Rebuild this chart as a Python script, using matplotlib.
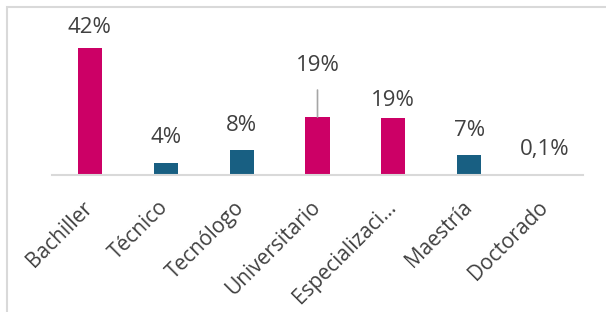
import matplotlib.pyplot as plt
import matplotlib.transforms as mtransforms
from matplotlib.patches import Rectangle

categories = ['Bachiller', 'Técnico', 'Tecnólogo', 'Universitario',
              'Especializaci…', 'Maestría', 'Doctorado']
values = [42.0, 4.0, 8.2, 19.2, 18.9, 6.6, 0.1]
labels = ['42%', '4%', '8%', '19%', '19%', '7%', '0,1%']
groups = ['a', 'b', 'b', 'a', 'a', 'b', 'b']

colors = {'a': '#CC0066', 'b': '#185F82'}
text_color = '#404040'
plt.rcParams['font.family'] = ['Open Sans', 'DejaVu Sans']

fig = plt.figure(figsize=(6.06, 3.12), dpi=100)
ax = fig.add_axes([52 / 606, 137 / 312, 531 / 606, 151 / 312])

# chart border
fig.patches.append(Rectangle((7 / 606, -0.05), 1.0, 1.05 - 7 / 312,
                             transform=fig.transFigure, fill=False,
                             edgecolor='#D9D9D9', linewidth=1.5))

x = range(len(categories))
ax.bar(x, values, width=0.32, color=[colors[g] for g in groups])

# label offsets in points (Excel moved a few of them)
offsets = [15, 18, 18, 37, 12.5, 18, 18]
for i, (v, lab) in enumerate(zip(values, labels)):
    arrow = None
    if i == 3:
        arrow = dict(arrowstyle='-', color='#A6A6A6', lw=1.2,
                     shrinkA=8, shrinkB=0)
    ax.annotate(lab, xy=(i, v), xytext=(0, offsets[i]),
                textcoords='offset points', ha='center', va='center',
                fontsize=16, color=text_color, arrowprops=arrow)

ax.set_xlim(-0.5, 6.5)
ax.set_ylim(0, 50)
ax.set_xticks(list(x))
ax.set_xticklabels(categories, rotation=45, ha='right', va='top',
                   rotation_mode='anchor', fontsize=15, color=text_color)
ax.tick_params(axis='x', length=0, pad=0)
shift = mtransforms.ScaledTranslation(-8 / 100, -22 / 100, fig.dpi_scale_trans)
for t in ax.get_xticklabels():
    t.set_transform(t.get_transform() + shift)
ax.set_yticks([])
for s in ['top', 'right', 'left']:
    ax.spines[s].set_visible(False)
ax.spines['bottom'].set_color('#D9D9D9')
ax.spines['bottom'].set_linewidth(1.5)

fig.savefig('out.png', dpi=100)
